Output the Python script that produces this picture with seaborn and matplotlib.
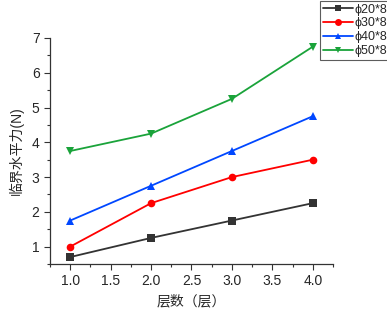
import numpy as np
import pandas as pd
import matplotlib
matplotlib.use("Agg")
import matplotlib.pyplot as plt
import seaborn as sns
from matplotlib.ticker import MultipleLocator, AutoMinorLocator
from matplotlib.lines import Line2D

# data
layers = [1.0, 2.0, 3.0, 4.0]
d20 = [0.7, 1.25, 1.75, 2.25]
d30 = [1.0, 2.25, 3.0, 3.5]
d40 = [1.75, 2.75, 3.75, 4.75]
d50 = [3.75, 4.25, 5.25, 6.75]
names = ['\u03d520*8', '\u03d530*8', '\u03d540*8', '\u03d550*8']

df = pd.DataFrame({
    'layers': layers * 4,
    'force': d20 + d30 + d40 + d50,
    'series': [n for n in names for _ in layers],
})

sns.set_style('ticks')
plt.rcParams['font.family'] = ['Liberation Sans', 'Noto Sans CJK SC', 'DejaVu Sans']

fig = plt.figure(figsize=(3.87, 3.09), dpi=100)
ax = fig.add_axes([50/387, 1-264/309, 283/387, 226/309])

colors = ['#333333', '#ff0000', '#0047ff', '#1aa33a']
markers = ['s', 'o', '^', 'v']
sns.lineplot(data=df, x='layers', y='force', hue='series', style='series',
             palette=colors, markers=markers, dashes=False, markersize=5.5,
             linewidth=1.3, markeredgewidth=0, ax=ax, legend=False)

ax.set_xlim(0.75, 4.25)
ax.set_ylim(0.5, 7)
ax.xaxis.set_major_locator(MultipleLocator(0.5))
ax.xaxis.set_minor_locator(AutoMinorLocator(2))
ax.yaxis.set_major_locator(MultipleLocator(1))
ax.yaxis.set_minor_locator(AutoMinorLocator(2))
ax.tick_params(which='major', length=4, width=0.8, labelsize=10, color='#333333')
ax.tick_params(which='minor', length=2, width=0.8, color='#333333')
sns.despine(ax=ax)
for s in ['left', 'bottom']:
    ax.spines[s].set_color('#333333')
    ax.spines[s].set_linewidth(0.9)

ax.set_xlabel('层数（层）', fontsize=10)
ax.set_ylabel('临界水平力(N)', fontsize=10, labelpad=6)

handles = [Line2D([], [], color=c, marker=m, markersize=5, markeredgewidth=0, lw=1.3)
           for c, m in zip(colors, markers)]
leg = fig.legend(handles, names, loc='upper left', bbox_to_anchor=(320/387, 1 - 1/309),
                 fontsize=9, frameon=True, fancybox=False, handlelength=2.4,
                 handletextpad=0.15, borderpad=0.2, labelspacing=0.15, borderaxespad=0)
leg.get_frame().set_edgecolor('#333333')
leg.get_frame().set_linewidth(0.8)

fig.savefig('out.png', dpi=100)
